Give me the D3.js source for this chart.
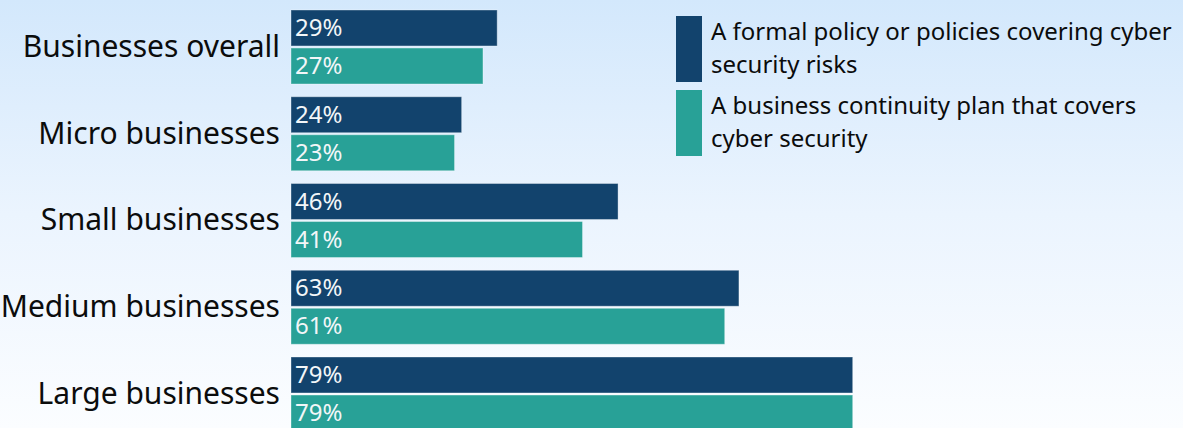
<!DOCTYPE html>
<html>
<head>
<meta charset="utf-8">
<script src="https://cdn.jsdelivr.net/npm/d3@7/dist/d3.min.js"></script>
<style>
  html, body { margin: 0; padding: 0; }
  body { width: 1183px; height: 428px; overflow: hidden; }
  svg { display: block; }
</style>
</head>
<body>
<svg id="chart" width="1183" height="428"></svg>
<script>
const categories = ["Businesses overall", "Micro businesses", "Small businesses", "Medium businesses", "Large businesses"];
const seriesNames = ["A formal policy or policies covering cyber security risks", "A business continuity plan that covers cyber security"];
const legendLines = [["A formal policy or policies covering cyber", "security risks"], ["A business continuity plan that covers", "cyber security"]];
const policyValues = [29, 24, 46, 63, 79];
const continuityValues = [27, 23, 41, 61, 79];
const seriesColors = ["#12436D", "#28A197"];

const W = 1183, H = 428;
const FONT = "'Noto Sans', 'DejaVu Sans', sans-serif";
const svg = d3.select("#chart");

const defs = svg.append("defs");
const grad = defs.append("linearGradient").attr("id", "bg").attr("x1", 0).attr("y1", 0).attr("x2", 0).attr("y2", 1);
grad.append("stop").attr("offset", "0%").attr("stop-color", "#d3e8fc");
grad.append("stop").attr("offset", "50%").attr("stop-color", "#ebf4fe");
grad.append("stop").attr("offset", "100%").attr("stop-color", "#fbfdff");
svg.append("rect").attr("width", W).attr("height", H).attr("fill", "url(#bg)");

const x = d3.scaleLinear().domain([0, 100]).range([291, 1002]);
const y = d3.scaleBand().domain(categories).range([10, 431]).paddingInner(0.147);
const ySub = d3.scaleBand().domain([0, 1]).range([0, y.bandwidth()]).paddingInner(0.054);

const data = categories.map((c, i) => ({ cat: c, vals: [policyValues[i], continuityValues[i]] }));

const groups = svg.append("g").selectAll("g").data(data).join("g")
  .attr("transform", d => `translate(0,${y(d.cat)})`);

groups.selectAll("rect").data(d => d.vals.map((v, k) => ({ v, k }))).join("rect")
  .attr("x", x(0))
  .attr("y", d => ySub(d.k))
  .attr("width", d => x(d.v) - x(0))
  .attr("height", ySub.bandwidth())
  .attr("fill", d => seriesColors[d.k])
  .attr("stroke", "rgba(255,255,255,0.35)")
  .attr("stroke-width", 1);

groups.selectAll("text.val").data(d => d.vals.map((v, k) => ({ v, k }))).join("text")
  .attr("class", "val")
  .attr("x", x(0) + 4)
  .attr("y", d => ySub(d.k) + ySub.bandwidth() / 2 + 8)
  .attr("fill", "#f2f6f8")
  .attr("font-family", FONT)
  .attr("font-size", 24)
  .text(d => d.v + "%");

// category axis labels
groups.append("text")
  .attr("x", 280)
  .attr("y", y.bandwidth() / 2 + 10)
  .attr("text-anchor", "end")
  .attr("fill", "#0b0c0c")
  .attr("font-family", FONT)
  .attr("font-size", 30)
  .text(d => d.cat);

// legend
const legend = svg.append("g");
const legendY = [16, 90];
seriesNames.forEach((name, i) => {
  const g = legend.append("g").attr("transform", `translate(676,${legendY[i]})`);
  g.append("rect").attr("width", 26).attr("height", 66).attr("fill", seriesColors[i]);
  legendLines[i].forEach((line, j) => {
    g.append("text")
      .attr("x", 35)
      .attr("y", 24 + j * 33)
      .attr("fill", "#0b0c0c")
      .attr("font-family", FONT)
      .attr("font-size", 24)
      .text(line);
  });
});
</script>
</body>
</html>
